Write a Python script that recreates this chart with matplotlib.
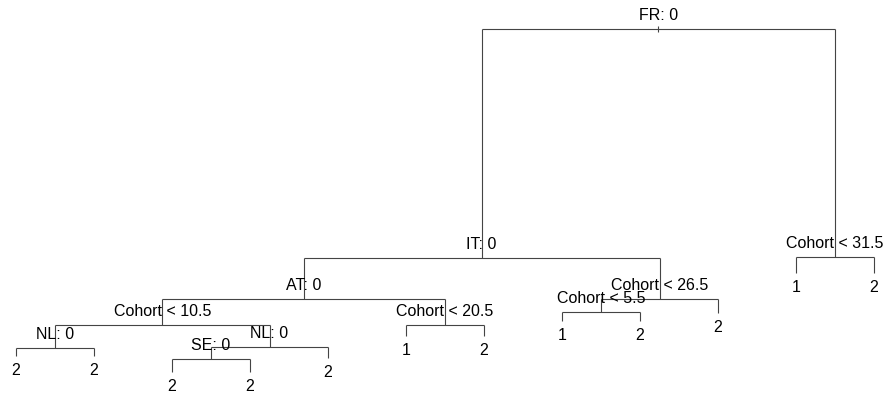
import matplotlib
matplotlib.use("Agg")
import matplotlib.pyplot as plt

# Classification tree: node ids follow the usual numbering (children of n are 2n, 2n+1)
node_ids = [1, 2, 4, 8, 16, 32, 33, 17, 34, 68, 69, 35, 9, 18, 19,
            5, 10, 20, 21, 11, 3, 6, 7]
node_labels = ["FR: 0", "IT: 0", "AT: 0", "Cohort < 10.5", "NL: 0", "2", "2",
               "NL: 0", "SE: 0", "2", "2", "2", "Cohort < 20.5", "1", "2",
               "Cohort < 26.5", "Cohort < 5.5", "1", "2", "2",
               "Cohort < 31.5", "1", "2"]
# node heights (deviance scale)
node_heights = [365, 136, 95, 69, 46, 38, 38, 47, 35, 22, 22, 36, 69, 58, 58,
                95, 82, 73, 73, 81, 137, 121, 121]

heights = dict(zip(node_ids, node_heights))
labels = dict(zip(node_ids, node_labels))
ids = set(node_ids)

# horizontal positions: leaves evenly spaced in order, splits centred on children
xpos = {}
counter = [0]


def place(n):
    kids = [c for c in (2 * n, 2 * n + 1) if c in ids]
    if not kids:
        counter[0] += 1
        xpos[n] = counter[0]
    else:
        for c in kids:
            place(c)
        xpos[n] = (xpos[kids[0]] + xpos[kids[1]]) / 2


place(1)
n_leaves = counter[0]

W, H, DPI = 889, 394, 100
fig = plt.figure(figsize=(W / DPI, H / DPI), dpi=DPI)
ax = fig.add_axes([0, 0, 1, 1])
ax.set_axis_off()

leaf_gap_px = 78
first_leaf_px = 16
ax.set_xlim(1 - first_leaf_px / leaf_gap_px, 1 + (W - first_leaf_px) / leaf_gap_px)
ax.set_ylim(0, H)

line_kw = dict(color="#444444", lw=0.8, solid_capstyle="butt")
font = dict(family=["Liberation Sans", "DejaVu Sans"], fontsize=11.5, color="black")

for n in node_ids:
    kids = [c for c in (2 * n, 2 * n + 1) if c in ids]
    if kids:
        y = heights[n]
        ax.plot([xpos[kids[0]], xpos[kids[1]]], [y, y], **line_kw)
        for c in kids:
            ax.plot([xpos[c], xpos[c]], [y, heights[c]], **line_kw)
        ax.annotate(labels[n], (xpos[n], y), xytext=(0, 10),
                    textcoords="offset points", ha="center", va="center", **font)
    else:
        ax.annotate(labels[n], (xpos[n], heights[n]), xytext=(0, -10.5),
                    textcoords="offset points", ha="center", va="center", **font)

# short stub at the root
ax.plot([xpos[1], xpos[1]], [heights[1] - 3, heights[1] + 3], **line_kw)

fig.savefig("out.png", dpi=DPI)
